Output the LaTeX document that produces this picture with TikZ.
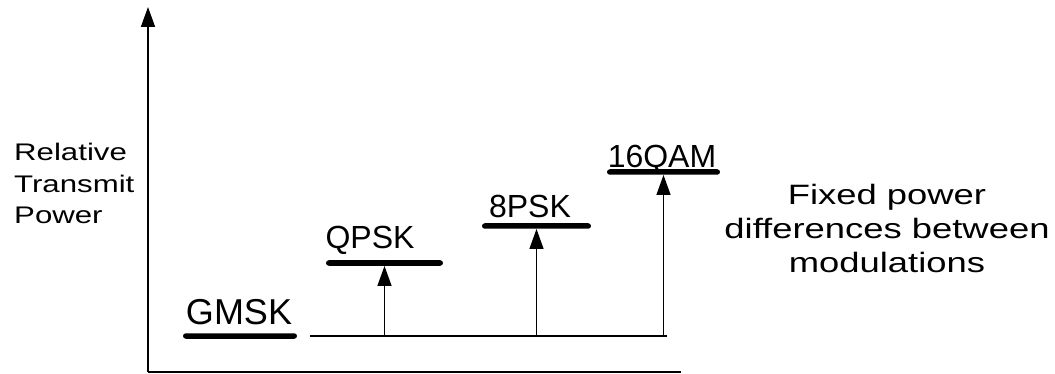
\documentclass[tikz,border=0pt]{standalone}
\usepackage{fontspec}
\setmainfont{Liberation Sans}
\newfontfamily\WideFont[FakeStretch=1.3]{Liberation Sans}
\usetikzlibrary{arrows.meta}

\begin{document}
\begin{tikzpicture}[x=1pt,y=-1pt,>={Triangle[length=20pt,width=14pt]},
  level/.style={fill=black,rounded corners=2.75pt,minimum height=5.5pt,inner sep=0pt},
  rise/.style={->,line width=1.3pt},
  modlabel/.style={anchor=base,inner sep=0pt,font=\fontsize{32}{38}\selectfont}]
\useasboundingbox (0,0) rectangle (1055,374);
% axes
\coordinate (origin) at (148,372);
\coordinate (ytop) at (148,7);
\coordinate (xend) at (681,372);
\draw[->,line width=1.6pt] (origin) -- (ytop);
\draw[line width=1.8pt] (origin) -- (xend);
\node[anchor=north west,align=left,inner sep=0pt,font=\WideFont\fontsize{24}{31.5}\selectfont] (ylabel) at (14,143) {Relative\\Transmit\\Power};
% common reference level
\coordinate (floorL) at (310,336);
\coordinate (floorR) at (667,336);
\draw[line width=1.3pt] (floorL) -- (floorR);
% power levels per modulation
\node[level,minimum width=114pt] (gmsk) at (240,336) {};
\node[level,minimum width=117pt] (qpsk) at (384.5,263) {};
\node[level,minimum width=109pt] (psk8) at (536.5,226) {};
\node[level,minimum width=113pt] (qam16) at (663.5,172) {};
\node[modlabel,font=\fontsize{36}{42}\selectfont] (gmskText) at (239,324) {GMSK};
\node[modlabel] (qpskText) at (370,248) {QPSK};
\node[modlabel] (psk8Text) at (530,218) {8PSK};
\node[modlabel] (qam16Text) at (662,168) {16QAM};
\draw[rise] (qpsk.south |- floorL) -- (qpsk.south);
\draw[rise] (psk8.south |- floorL) -- (psk8.south);
\draw[rise] (qam16.south |- floorL) -- (qam16.south);
\node[anchor=north,align=center,inner sep=0pt,font=\WideFont\fontsize{28}{34}\selectfont] (note) at (887,184) {Fixed power\\differences between\\modulations};
\end{tikzpicture}
\end{document}
